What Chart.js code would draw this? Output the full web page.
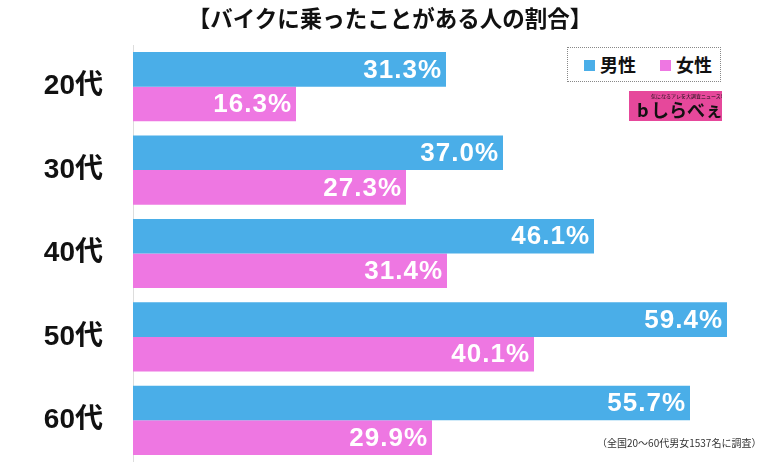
<!DOCTYPE html>
<html>
<head>
<meta charset="utf-8">
<script src="https://cdn.jsdelivr.net/npm/chart.js@4.4.0/dist/chart.umd.min.js"></script>
<style>
html,body{margin:0;padding:0;background:#fff;}
#wrap{position:relative;width:768px;height:462px;overflow:hidden;font-family:"Liberation Sans","Noto Sans CJK JP",sans-serif;}
#cw{position:absolute;left:0;top:0;width:768px;height:462px;}
#title{position:absolute;left:0;top:3px;width:780px;text-align:center;font-family:"Noto Sans CJK JP",sans-serif;font-weight:bold;font-size:22.5px;color:#111;line-height:28px;}
#legend{position:absolute;left:567px;top:47px;width:152px;height:33px;border:1px dotted #888;font-family:"Noto Sans CJK JP",sans-serif;font-weight:bold;font-size:18px;color:#111;background:#fff;}
.li{position:absolute;top:5px;line-height:22px;}
.sq{display:inline-block;width:11px;height:11px;margin-right:5px;vertical-align:1px;}
#logo{position:absolute;left:629px;top:91px;width:93px;height:30px;background:#e6489b;color:#111;font-family:"Noto Sans CJK JP",sans-serif;}
#logo .s{position:absolute;left:22px;top:2px;font-size:5px;line-height:6px;white-space:nowrap;}
#logo .m{position:absolute;left:22px;top:7px;font-size:18px;font-weight:bold;line-height:22px;white-space:nowrap;}
#logo .g{position:absolute;left:8px;top:8px;font-size:18px;font-weight:bold;line-height:20px;}
#note{position:absolute;left:597px;top:436px;font-family:"Noto Sans CJK JP",sans-serif;font-size:10px;color:#333;white-space:nowrap;line-height:14px;}
</style>
</head>
<body>
<div id="wrap">
<div id="cw"><canvas id="c"></canvas></div>
<div id="title">【バイクに乗ったことがある人の割合】</div>
<div id="legend">
  <span class="li" style="left:16px"><span class="sq" style="background:#4aaee8"></span>男性</span>
  <span class="li" style="left:92px"><span class="sq" style="background:#ee77e2"></span>女性</span>
</div>
<div id="logo"><span class="s">気になるアレを大調査ニュース!</span><span class="g">b</span><span class="m">しらべぇ</span></div>
<div id="note">（全国20～60代男女1537名に調査）</div>
</div>
<script>
const categories = ["20代","30代","40代","50代","60代"];
const maleValues = [31.3, 37.0, 46.1, 59.4, 55.7];
const femaleValues = [16.3, 27.3, 31.4, 40.1, 29.9];
const seriesNames = ["男性","女性"];

const labelPlugin = {
  id: 'valueLabels',
  afterDatasetsDraw(chart) {
    const ctx = chart.ctx;
    ctx.save();
    ctx.fillStyle = '#fff';
    ctx.font = 'bold 26px "Liberation Sans","Noto Sans CJK JP",sans-serif';
    try { ctx.letterSpacing = '1px'; } catch (e) {}
    ctx.textAlign = 'right';
    ctx.textBaseline = 'middle';
    chart.data.datasets.forEach((ds, i) => {
      const meta = chart.getDatasetMeta(i);
      meta.data.forEach((el, j) => {
        ctx.fillText(ds.data[j].toFixed(1) + '%', el.x - 4, el.y + 1);
      });
    });
    ctx.restore();
  }
};

new Chart(document.getElementById('c'), {
  type: 'bar',
  data: {
    labels: categories,
    datasets: [
      {label: seriesNames[0], data: maleValues, backgroundColor: '#4aaee8'},
      {label: seriesNames[1], data: femaleValues, backgroundColor: '#ee77e2'}
    ]
  },
  options: {
    indexAxis: 'y',
    responsive: true,
    maintainAspectRatio: false,
    animation: false,
    devicePixelRatio: 1,
    layout: {padding: 0},
    plugins: {legend: {display: false}, title: {display: false}, tooltip: {enabled: false}},
    datasets: {bar: {categoryPercentage: 0.83, barPercentage: 1.0}},
    scales: {
      x: {
        position: 'top', min: 0, max: 63.5,
        afterFit(scale) { scale.height = 45; },
        ticks: {display: false},
        grid: {display: false, drawTicks: false},
        border: {display: false}
      },
      y: {
        afterFit(scale) { scale.width = 133; scale.paddingTop = 0; scale.paddingBottom = 0; },
        grid: {display: false, drawTicks: false},
        border: {display: true, color: '#dddddd', width: 1},
        ticks: {
          color: '#111',
          padding: 30,
          font: {family: '"Liberation Sans","Noto Sans CJK JP",sans-serif', weight: 'bold', size: 28}
        }
      }
    }
  },
  plugins: [labelPlugin]
});
</script>
</body>
</html>
